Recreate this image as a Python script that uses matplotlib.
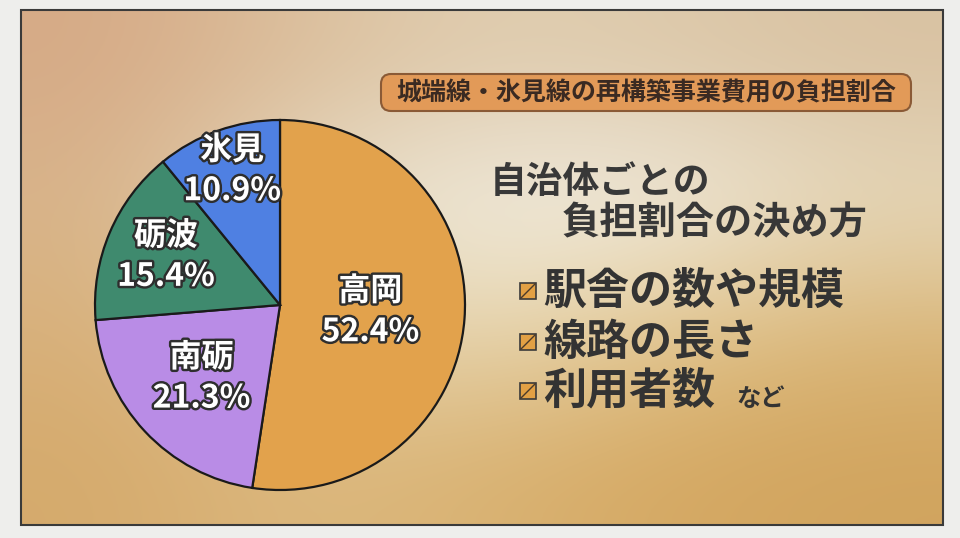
import numpy as np
import matplotlib.pyplot as plt
from matplotlib.patches import FancyBboxPatch, Rectangle
import matplotlib.patheffects as pe

plt.rcParams['font.family'] = ['Noto Sans CJK JP', 'DejaVu Sans']

# data
cities = ['高岡', '南砺', '砺波', '氷見']
shares = [52.4, 21.3, 15.4, 10.9]
colors = ['#E2A24C', '#B98CE6', '#3F8A6E', '#4F80E2']
label_r = [0.49, 0.58, 0.67, 0.77]

title = '城端線・氷見線の再構築事業費用の負担割合'
heading = ['自治体ごとの', '負担割合の決め方']
bullets = ['駅舎の数や規模', '線路の長さ', '利用者数']

W, H = 960, 538
fig = plt.figure(figsize=(W / 100, H / 100), dpi=100)
fig.patch.set_facecolor('#EEEEEC')

bg = fig.add_axes([0, 0, 1, 1])
bg.set_xlim(0, W)
bg.set_ylim(H, 0)
bg.axis('off')

# panel background, soft gradient
grid = np.array([
    ['#D6AA86', '#DBBF9C', '#E0CDB0', '#DDC9AA', '#D9C2A2'],
    ['#D8B48A', '#E8DEC6', '#F1EDE2', '#F2EEE4', '#E6D9BC'],
    ['#D8B07A', '#E2CCA2', '#E8D8B4', '#E2C68E', '#DAB678'],
    ['#D5AA6C', '#DCB87E', '#D9B272', '#D5A862', '#D1A45E'],
])
rgb = np.array([[[int(c[i:i + 2], 16) / 255 for i in (1, 3, 5)] for c in row] for row in grid])
bg.imshow(rgb, extent=(21, 943, 525, 10), interpolation='bicubic', aspect='auto', zorder=0)
bg.add_patch(Rectangle((21, 10), 922, 515, fill=False, ec='#3A3A3A', lw=1.5, zorder=1))

# title box
bg.add_patch(FancyBboxPatch((381, 74), 530, 37, boxstyle='round,pad=0,rounding_size=10',
                            fc='#E29A58', ec='#8A5A36', lw=1.5, zorder=2))
bg.text(646, 93, title, fontsize=18, fontweight='bold', color='#3A2A22',
        ha='center', va='center', zorder=3)

# heading
bg.text(490, 182, heading[0], fontsize=26.5, fontweight='bold', color='#383838', ha='left', va='center')
bg.text(868, 223, heading[1], fontsize=27.5, fontweight='bold', color='#383838', ha='right', va='center')

# bullet list
ys = [291, 342, 391]
for y, b in zip(ys, bullets):
    bg.add_patch(Rectangle((520, y - 8), 16, 16, fc='#E2A044', ec='#3A3A3A', lw=1.2, zorder=2))
    bg.plot([521, 535], [y + 7, y - 7], color='#4A3A2A', lw=1, zorder=3)
    bg.text(543, y, b, fontsize=31, fontweight='bold', color='#333333', ha='left', va='center')
bg.text(736, 399, 'など', fontsize=17.5, fontweight='bold', color='#333333', ha='left', va='center')

# pie
cx, cy, r = 280, 305, 185
pad = 4
ax = fig.add_axes([(cx - r - pad) / W, (H - cy - r - pad) / H, 2 * (r + pad) / W, 2 * (r + pad) / H])
wedges, _ = ax.pie(shares, colors=colors, startangle=90, counterclock=False,
                   wedgeprops=dict(edgecolor='#1A1A1A', linewidth=1.6))
lim = (r + pad) / r
ax.set_xlim(-lim, lim)
ax.set_ylim(-lim, lim)
ax.axis('off')

stroke = [pe.withStroke(linewidth=3.5, foreground='#2E2E2E')]
for w, name, val, lr in zip(wedges, cities, shares, label_r):
    ang = np.deg2rad((w.theta1 + w.theta2) / 2)
    x, y = lr * np.cos(ang), lr * np.sin(ang)
    ax.text(x, y + 0.11, name, fontsize=23, fontweight='bold', color='white',
            ha='center', va='center', path_effects=stroke)
    ax.text(x, y - 0.11, f'{val}%', fontsize=23, fontweight='bold', color='white',
            ha='center', va='center', path_effects=stroke)

fig.savefig('out.png', dpi=100, facecolor=fig.get_facecolor())
